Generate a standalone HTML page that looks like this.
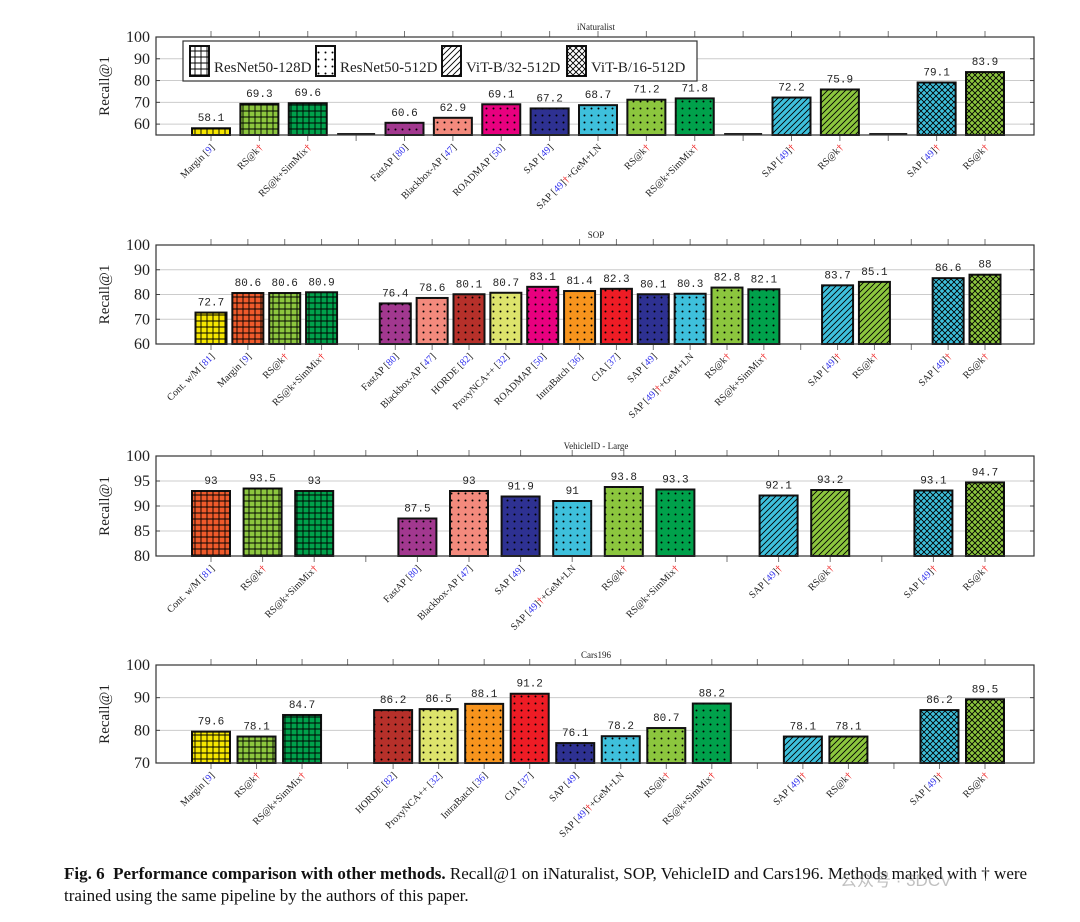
<!DOCTYPE html>
<html><head><meta charset="utf-8">
<style>
body{margin:0;background:#fff;width:1080px;height:922px;overflow:hidden;font-family:"Liberation Serif",serif;}
svg{display:block}
</style></head>
<body>
<svg id="chart" width="1080" height="922" xmlns="http://www.w3.org/2000/svg">
<defs>
<pattern id="p-grid" patternUnits="userSpaceOnUse" width="6" height="6"><path d="M3 0V6M0 3H6" stroke="#000" stroke-width="0.9"/></pattern>
<pattern id="p-dots" patternUnits="userSpaceOnUse" width="7" height="7"><circle cx="3.5" cy="3.5" r="1" fill="#000"/></pattern>
<pattern id="p-diag" patternUnits="userSpaceOnUse" width="6" height="6"><path d="M-1 7L7 -1M-4 4L4 -4M2 10L10 2" stroke="#000" stroke-width="0.9"/></pattern>
<pattern id="p-cross" patternUnits="userSpaceOnUse" width="6" height="6"><path d="M-1 7L7 -1M-1 -1L7 7" stroke="#000" stroke-width="0.9"/></pattern>
</defs>
</svg>
<script>
// ---- data ----
const COL={yel:'#f6e600',org:'#ef5a2b',lg:'#8cc63e',dg:'#00a14b',pur:'#a2388f',sal:'#f38a7d',mag:'#e8007f',nav:'#2e3192',cyn:'#3ec0dc',brn:'#b6302a',kha:'#dde46c',ora:'#f7941d',red:'#ee1c25'};
const inatCats=['Margin [{9}]','RS@k†','RS@k+SimMix†',null,'FastAP [{80}]','Blackbox-AP [{47}]','ROADMAP [{50}]','SAP [{49}]','SAP [{49}]†+GeM+LN','RS@k†','RS@k+SimMix†',null,'SAP [{49}]†','RS@k†',null,'SAP [{49}]†','RS@k†'];
const inatVals=[58.1,69.3,69.6,null,60.6,62.9,69.1,67.2,68.7,71.2,71.8,null,72.2,75.9,null,79.1,83.9];
const inatCols=['yel','lg','dg',null,'pur','sal','mag','nav','cyn','lg','dg',null,'cyn','lg',null,'cyn','lg'];
const inatPats=['grid','grid','grid',null,'dots','dots','dots','dots','dots','dots','dots',null,'diag','diag',null,'cross','cross'];

const sopCats=['Cont. w/M [{81}]','Margin [{9}]','RS@k†','RS@k+SimMix†',null,'FastAP [{80}]','Blackbox-AP [{47}]','HORDE [{82}]','ProxyNCA++ [{32}]','ROADMAP [{50}]','IntraBatch [{36}]','CIA [{37}]','SAP [{49}]','SAP [{49}]†+GeM+LN','RS@k†','RS@k+SimMix†',null,'SAP [{49}]†','RS@k†',null,'SAP [{49}]†','RS@k†'];
const sopVals=[72.7,80.6,80.6,80.9,null,76.4,78.6,80.1,80.7,83.1,81.4,82.3,80.1,80.3,82.8,82.1,null,83.7,85.1,null,86.6,88];
const sopCols=['yel','org','lg','dg',null,'pur','sal','brn','kha','mag','ora','red','nav','cyn','lg','dg',null,'cyn','lg',null,'cyn','lg'];
const sopPats=['grid','grid','grid','grid',null,'dots','dots','dots','dots','dots','dots','dots','dots','dots','dots','dots',null,'diag','diag',null,'cross','cross'];

const vehCats=['Cont. w/M [{81}]','RS@k†','RS@k+SimMix†',null,'FastAP [{80}]','Blackbox-AP [{47}]','SAP [{49}]','SAP [{49}]†+GeM+LN','RS@k†','RS@k+SimMix†',null,'SAP [{49}]†','RS@k†',null,'SAP [{49}]†','RS@k†'];
const vehVals=[93,93.5,93,null,87.5,93,91.9,91,93.8,93.3,null,92.1,93.2,null,93.1,94.7];
const vehCols=['org','lg','dg',null,'pur','sal','nav','cyn','lg','dg',null,'cyn','lg',null,'cyn','lg'];
const vehPats=['grid','grid','grid',null,'dots','dots','dots','dots','dots','dots',null,'diag','diag',null,'cross','cross'];

const carCats=['Margin [{9}]','RS@k†','RS@k+SimMix†',null,'HORDE [{82}]','ProxyNCA++ [{32}]','IntraBatch [{36}]','CIA [{37}]','SAP [{49}]','SAP [{49}]†+GeM+LN','RS@k†','RS@k+SimMix†',null,'SAP [{49}]†','RS@k†',null,'SAP [{49}]†','RS@k†'];
const carVals=[79.6,78.1,84.7,null,86.2,86.5,88.1,91.2,76.1,78.2,80.7,88.2,null,78.1,78.1,null,86.2,89.5];
const carCols=['yel','lg','dg',null,'brn','kha','ora','red','nav','cyn','lg','dg',null,'cyn','lg',null,'cyn','lg'];
const carPats=['grid','grid','grid',null,'dots','dots','dots','dots','dots','dots','dots','dots',null,'diag','diag',null,'cross','cross'];

const inatTicks=[60,70,80,90,100], sopTicks=[60,70,80,90,100], vehTicks=[80,85,90,95,100], carTicks=[70,80,90,100];

const NS='http://www.w3.org/2000/svg';
const svg=document.getElementById('chart');
function el(tag,attrs,parent){const e=document.createElementNS(NS,tag);for(const k in attrs)e.setAttribute(k,attrs[k]);(parent||svg).appendChild(e);return e;}

function panel(key,title,cats,vals,cols,pats,ticks,ymin,top,bottom,barW,gapMark){
  const g=el('g',{});
  
  
  const L=156,R=1034,ymax=100,n=cats.length;
  const yS=v=>bottom-(v-ymin)/(ymax-ymin)*(bottom-top);
  const xS=i=>211+i*(774/(n-1));
  ticks.forEach(t=>{
    const y=yS(t);
    if(t<100){const gl=el('line',{x1:L,x2:R,y1:y,y2:y,stroke:'#ccc','stroke-width':1},g);
      }
    const tl=el('text',{x:L-6,y:y+5,'text-anchor':'end','font-size':16,fill:'#222'},g);
    tl.textContent=t;
    
    el('line',{x1:L,x2:L+4,y1:y,y2:y,stroke:'#444'},g);el('line',{x1:R-4,x2:R,y1:y,y2:y,stroke:'#444'},g);
  });
  const yt=el('text',{x:0,y:0,transform:`translate(109,${(top+bottom)/2}) rotate(-90)`,'text-anchor':'middle','font-size':15,fill:'#222'},g);
  yt.textContent='Recall@1';
  
  const tt=el('text',{x:596,y:top-7,'text-anchor':'middle','font-size':9,fill:'#222'},g);
  tt.textContent=title;
  
  for(let i=0;i<n;i++){
    const cx=xS(i);
    el('line',{x1:cx,x2:cx,y1:top-6,y2:top,stroke:'#777'},g);
    el('line',{x1:cx,x2:cx,y1:bottom,y2:bottom+6,stroke:'#777'},g);
    if(vals[i]==null){
      if(gapMark){el('line',{x1:cx-barW/2,x2:cx+barW/2,y1:bottom-1,y2:bottom-1,stroke:'#222','stroke-width':2},g);}
      continue;
    }
    const y=yS(vals[i]);
    const b=el('rect',{x:cx-barW/2,y:y,width:barW,height:bottom-y,fill:COL[cols[i]],stroke:'#111','stroke-width':2},g);
    
    el('rect',{x:cx-barW/2,y:y,width:barW,height:bottom-y,fill:'url(#p-'+pats[i]+')'},g);
    const vl=el('text',{x:cx,y:y-7,'text-anchor':'middle','font-size':11,fill:'#222','font-family':'Liberation Mono, monospace'},g);
    vl.textContent=vals[i];
    
    const lt=el('text',{transform:`translate(${cx+4},${bottom+13}) rotate(-45)`,'text-anchor':'end','font-size':10,fill:'#222'},g);
    
    cats[i].split(/(\{[^}]*\}|†)/).forEach(p=>{
      if(!p)return;const s=el('tspan',{},lt);
      if(p==='†'){s.setAttribute('fill','#e11');s.textContent='†';}
      else if(p[0]==='{'){s.setAttribute('fill','#33e');s.textContent=p.slice(1,-1);}
      else s.textContent=p;
    });
  }
  el('rect',{x:L,y:top,width:R-L,height:bottom-top,fill:'none',stroke:'#333','stroke-width':1.2},g);
}
panel('inaturalist','iNaturalist',inatCats,inatVals,inatCols,inatPats,inatTicks,55,37,135,38,true);
panel('sop','SOP',sopCats,sopVals,sopCols,sopPats,sopTicks,60,245,344,31,false);
panel('vehicleid','VehicleID - Large',vehCats,vehVals,vehCols,vehPats,vehTicks,80,456,556,38,false);
panel('cars196','Cars196',carCats,carVals,carCols,carPats,carTicks,70,665,763,38,false);

// legend
const lg=el('g',{});

el('rect',{x:183,y:41,width:514,height:40,fill:'#fff',stroke:'#333','stroke-width':1.2},lg);
const legNames=['ResNet50-128D','ResNet50-512D','ViT-B/32-512D','ViT-B/16-512D'];
const legPats=['grid','dots','diag','cross'];
const legX=[190,316,442,567];
legNames.forEach((nm,i)=>{
  const e=el('g',{},lg);
  
  el('rect',{x:legX[i],y:46,width:19,height:30,fill:'#fff',stroke:'#111','stroke-width':2},e);
  el('rect',{x:legX[i],y:46,width:19,height:30,fill:'url(#p-'+legPats[i]+')'},e);
  const t=el('text',{x:legX[i]+24,y:72,'font-size':15,fill:'#222'},e);t.textContent=nm;
});
</script>
<div style="position:absolute;left:64px;top:863px;width:990px;font-size:17px;line-height:22px;color:#111;font-family:'Liberation Serif',serif;">
<b>Fig. 6&nbsp;&nbsp;Performance comparison with other methods.</b> Recall@1 on iNaturalist, SOP, VehicleID and Cars196. Methods marked with † were trained using the same pipeline by the authors of this paper.
</div>
<div style="position:absolute;left:840px;top:866px;font-size:17px;color:rgba(150,150,150,0.6);font-family:'Liberation Sans','Noto Sans CJK SC',sans-serif;">公众号 · 3DCV</div>
</body></html>
